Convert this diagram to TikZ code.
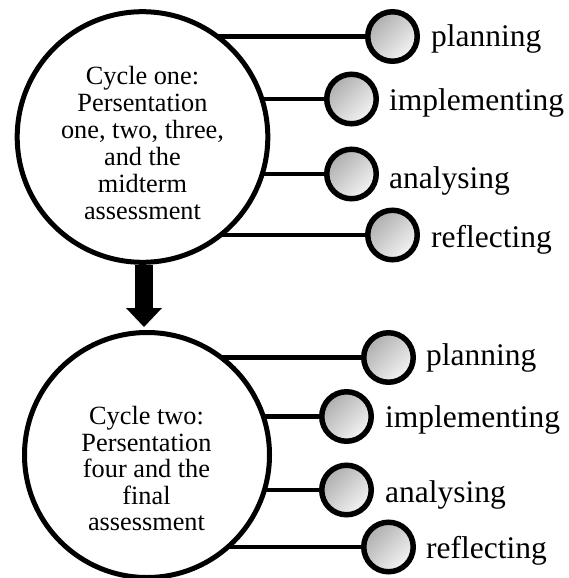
\documentclass[tikz,border=0pt]{standalone}
\usepackage{fontspec}
\setmainfont{Liberation Serif}
\usetikzlibrary{positioning,arrows.meta,backgrounds}
\tikzset{>=stealth}

\begin{document}
\begin{tikzpicture}[x=1pt,y=-1pt,
  cyc/.style={circle,draw,line width=5pt,fill=white,inner sep=0pt},
  cyctext/.style={align=center,inner sep=0pt,font=\fontsize{26.3}{27}\selectfont},
  dot/.style={circle,draw,line width=5.5pt,minimum size=49.5pt,inner sep=0pt,
    top color=black!32,bottom color=black!4,shading angle=45},
  lbl/.style={anchor=base west,inner sep=0pt,font=\fontsize{31.5}{36}\selectfont},
  link/.style={line width=4.5pt},
  bigarrow/.style={line width=18pt,-{Triangle[width=36pt,length=19pt,line width=0pt]}}]
\useasboundingbox (0,0) rectangle (569,578);
% the two cycles
\node[cyc,minimum size=250.6pt] (c1) at (142.5,137) {};
\node[cyctext] (t1) at (142.5,143.5) {Cycle one:\\Persentation\\one, two, three,\\and the\\midterm\\assessment};
\node[cyc,minimum size=245pt] (c2) at (147,455) {};
\node[cyctext,font=\fontsize{26.3}{26.5}\selectfont] (t2) at (146.5,468.5) {Cycle two:\\Persentation\\four and the\\final\\assessment};
% steps of each cycle
\foreach \n/\x/\y/\lx/\ly/\t in {1/392.5/36.5/431/47/planning,2/351.5/99/389/110/implementing,
    3/351.5/174/389/188/analysing,4/392.5/235/431/247/reflecting}{
  \node[dot] (a\n) at (\x,\y) {};
  \node[lbl] (la\n) at (\lx,\ly) {\t};
}
\foreach \n/\x/\y/\lx/\ly/\t in {1/388.5/357.5/426/365/planning,2/346.5/416.5/385/427/implementing,
    3/346.5/490/385/502/analysing,4/388.5/547/426/558/reflecting}{
  \node[dot] (b\n) at (\x,\y) {};
  \node[lbl] (lb\n) at (\lx,\ly) {\t};
}
\begin{scope}[on background layer]
\foreach \n in {1,...,4}{
  \draw[link] (a\n.west) -- (a\n.west -| c1.center);
  \draw[link] (b\n.west) -- (b\n.west -| c2.center);
}
\end{scope}
% from cycle one to cycle two
\draw[bigarrow,shorten >=3pt] ([xshift=1.5pt]c1.south) -- ([xshift=1.5pt]c1.south |- c2.north);
\end{tikzpicture}
\end{document}
